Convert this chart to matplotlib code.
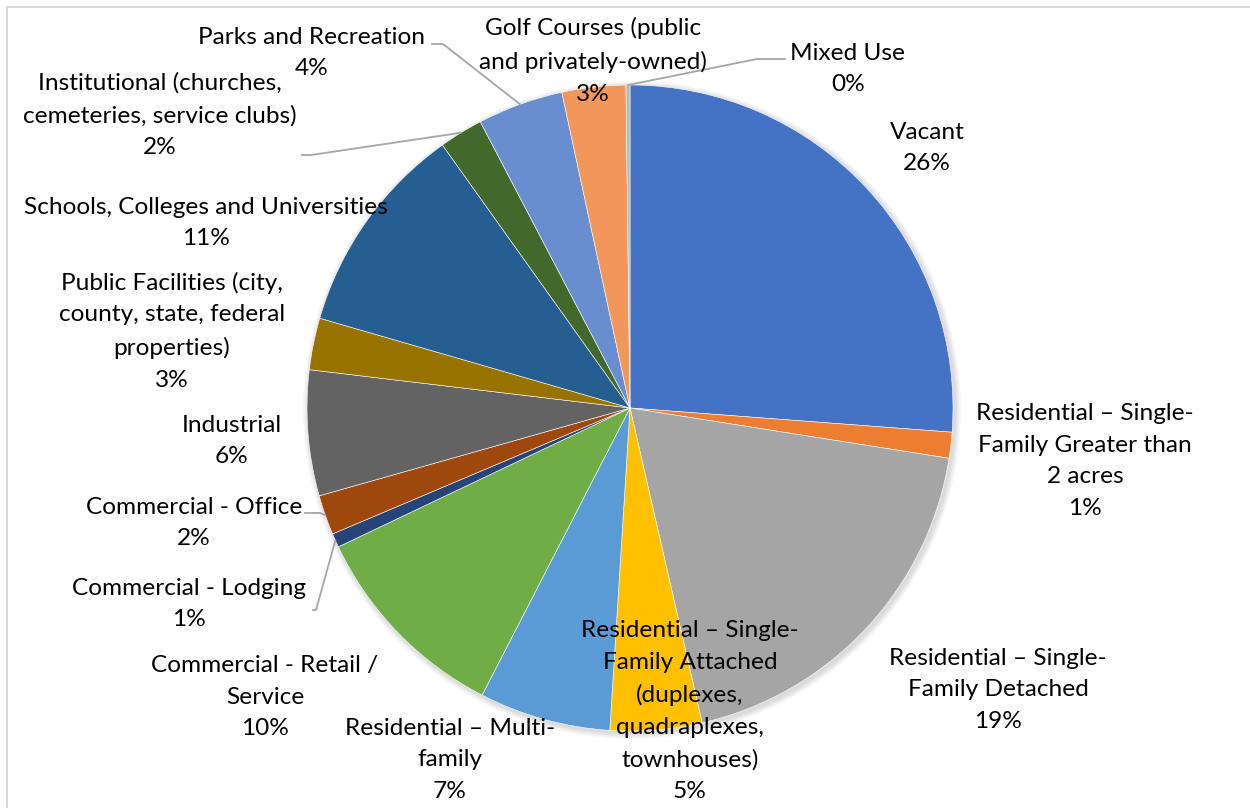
import matplotlib
matplotlib.use("Agg")
import matplotlib.pyplot as plt
import numpy as np
from matplotlib.patches import Circle, Rectangle

plt.rcParams['font.family'] = ['Lato', 'DejaVu Sans']

# land use categories, clockwise from 12 o'clock
categories = [
    "Vacant",
    "Residential \u2013 Single-\nFamily Greater than\n2 acres",
    "Residential \u2013 Single-\nFamily Detached",
    "Residential \u2013 Single-\nFamily Attached\n(duplexes,\nquadraplexes,\ntownhouses)",
    "Residential \u2013 Multi-\nfamily",
    "Commercial - Retail /\nService",
    "Commercial - Lodging",
    "Commercial - Office",
    "Industrial",
    "Public Facilities (city,\ncounty, state, federal\nproperties)",
    "Schools, Colleges and Universities",
    "Institutional (churches,\ncemeteries, service clubs)",
    "Parks and Recreation",
    "Golf Courses (public\nand privately-owned)",
    "Mixed Use",
]
shares = [26.3, 1.3, 19.0, 4.6, 6.6, 10.4, 0.7, 2.0, 6.3, 2.6, 10.7, 2.2, 4.3, 3.2, 0.2]
colors = ["#4472C4", "#ED7D31", "#A5A5A5", "#FFC000", "#5B9BD5", "#70AD47",
          "#264478", "#9E480E", "#636363", "#997300", "#255E91", "#43682B",
          "#698ED0", "#F1975A", "#B7B7B7"]

# label centres in pixel coords (y from top)
label_pos = [(927, 148), (1085, 461), (998, 690), (690, 711), (450, 760),
             (265, 697), (189, 604), (194, 523), (232, 441), (172, 331),
             (206, 223), (160, 115), (312, 53), (593, 61), (848, 69)]
# leader lines: index -> (text end, elbow)
leaders = {12: ((432, 44), (443, 44)),
           11: ((302, 155), (311, 155)),
           14: ((785, 59), (757, 59)),
           7: ((305, 513), (320, 513)),
           6: ((313, 610), (316, 610))}

W, H = 1250, 808
cx, cy, R = 630, 408, 323

fig = plt.figure(figsize=(12.5, 8.08), dpi=100)
ax = fig.add_axes([0, 0, 1, 1])

def fy(y):
    return H - y

# soft shadow
for k in range(6):
    ax.add_patch(Circle((cx + 2, fy(cy) - 2), R + 1 + k, color="black",
                        alpha=0.025, linewidth=0, zorder=1))

wedges, _ = ax.pie(shares, colors=colors, startangle=90, counterclock=False,
                   center=(cx, fy(cy)), radius=R, frame=True,
                   wedgeprops=dict(edgecolor="white", linewidth=0.4))
for w in wedges:
    w.set_zorder(2)
ax.set_xlim(0, W)
ax.set_ylim(0, H)
ax.set_aspect('equal')
ax.axis('off')

# chart border
ax.add_patch(Rectangle((7, fy(H + 20)), W + 20, H + 13, fill=False,
                       edgecolor="#D9D9D9", linewidth=1.5))

total = sum(shares)
for i, (name, v) in enumerate(zip(categories, shares)):
    pct = int(round(v / total * 100))
    x, y = label_pos[i]
    ax.text(x, fy(y), name + "\n" + f"{pct}%", ha="center", va="center",
            fontsize=17.6, color="#000000", linespacing=1.63, zorder=5)

# leader lines
for i, (p_end, p_elb) in leaders.items():
    w = wedges[i]
    mid = np.deg2rad((w.theta1 + w.theta2) / 2)
    ex = cx + R * np.cos(mid)
    ey = fy(cy) + R * np.sin(mid)
    ax.plot([p_end[0], p_elb[0], ex], [fy(p_end[1]), fy(p_elb[1]), ey],
            color="#A6A6A6", linewidth=1.3, zorder=4)

fig.savefig("out.png", dpi=100, facecolor="white")
